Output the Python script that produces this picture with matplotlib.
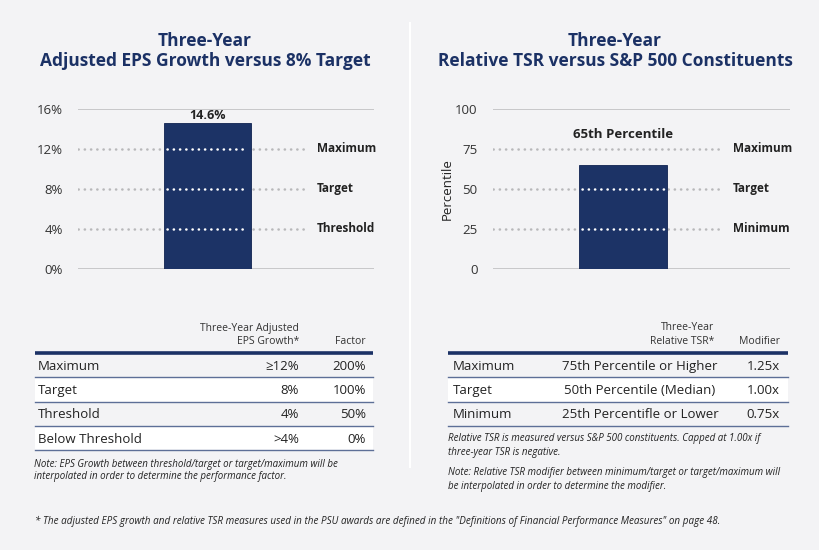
import matplotlib.pyplot as plt
from matplotlib.patches import Rectangle

# ---- data ----
eps_value = 14.6
eps_label = "14.6%"
eps_ticks = [0, 4, 8, 12, 16]
eps_tick_labels = ["0%", "4%", "8%", "12%", "16%"]
eps_levels = [12, 8, 4]
eps_level_names = ["Maximum", "Target", "Threshold"]

tsr_value = 65
tsr_label = "65th Percentile"
tsr_ticks = [0, 25, 50, 75, 100]
tsr_levels = [75, 50, 25]
tsr_level_names = ["Maximum", "Target", "Minimum"]

eps_rows = ["Maximum", "Target", "Threshold", "Below Threshold"]
eps_growth = ["\u226512%", "8%", "4%", ">4%"]
eps_factor = ["200%", "100%", "50%", "0%"]

tsr_rows = ["Maximum", "Target", "Minimum"]
tsr_rank = ["75th Percentile or Higher", "50th Percentile (Median)", "25th Percentifle or Lower"]
tsr_modifier = ["1.25x", "1.00x", "0.75x"]

BG = "#f3f3f5"
NAVY = "#1b3165"
BAR = "#1c3366"
GRID = "#c4c4c6"
DOT = "#b8b8ba"
TXT = "#222222"
FONT = ["Open Sans", "DejaVu Sans"]

plt.rcParams["font.family"] = FONT

W, H = 820, 550
fig = plt.figure(figsize=(8.2, 5.5), dpi=100, facecolor=BG)

# overlay in pixel coordinates for titles, tables and notes
bg = fig.add_axes([0, 0, 1, 1], zorder=0)
bg.set_xlim(0, W)
bg.set_ylim(H, 0)
bg.axis("off")
bg.set_facecolor(BG)

bg.plot([410, 410], [23, 467], color="white", lw=1.5)


def px_axes(x0, x1, y0, y1):
    return fig.add_axes([x0 / W, 1 - y1 / H, (x1 - x0) / W, (y1 - y0) / H], zorder=2)


def bar_panel(ax, value, ticks, tick_labels, levels, names, top):
    ax.set_facecolor("none")
    ax.set_xlim(0, 1)
    ax.set_ylim(0, top)
    for s in ax.spines.values():
        s.set_visible(False)
    ax.set_xticks([])
    ax.set_yticks(ticks)
    ax.set_yticklabels(tick_labels)
    ax.tick_params(axis="y", length=0, pad=11, labelsize=9.5, labelcolor="#333333")
    ax.axhline(0, color=GRID, lw=1.3, zorder=1)
    ax.axhline(top, color=GRID, lw=1.3, zorder=1)
    cx, bw = 0.4375, 0.294
    ax.bar(cx, value, width=bw, color=BAR, edgecolor="#0f2250", lw=0.6, zorder=2)
    for lv, nm in zip(levels, names):
        ax.plot([0, 0.777], [lv, lv], color=DOT, lw=1.8, ls=(0, (0.1, 2.4)),
                dash_capstyle="round", zorder=1)
        if lv < value:
            ax.plot([cx - bw / 2 + 0.01, cx + bw / 2 - 0.01], [lv, lv], color="white", lw=1.8,
                    ls=(0, (0.1, 2.4)), dash_capstyle="round", zorder=3)
        ax.text(0.807, lv, nm, ha="left", va="center", fontsize=8.5,
                fontweight="bold", color=TXT)
    return cx


# ---- left chart ----
ax1 = px_axes(78, 374, 109, 269)
cx = bar_panel(ax1, eps_value, eps_ticks, eps_tick_labels, eps_levels, eps_level_names, 16)
ax1.annotate(eps_label, (cx, eps_value), xytext=(0, 1), textcoords="offset points",
             ha="center", va="bottom", fontsize=9, fontweight="bold", color=TXT)

# ---- right chart ----
ax2 = px_axes(493, 790, 109, 269)
cx = bar_panel(ax2, tsr_value, tsr_ticks, [str(t) for t in tsr_ticks],
               tsr_levels, tsr_level_names, 100)
ax2.annotate(tsr_label, (cx, tsr_value), xytext=(0, 22), textcoords="offset points",
             ha="center", va="center", fontsize=9.5, fontweight="bold", color=TXT)
ax2.text(-0.155, 0.5, "Percentile", transform=ax2.transAxes, rotation=90,
         ha="center", va="center", fontsize=9.5, color=TXT)

# ---- titles ----
for x, lines in [(205, ["Three-Year", "Adjusted EPS Growth versus 8% Target"]),
                 (615, ["Three-Year", "Relative TSR versus S&P 500 Constituents"])]:
    bg.text(x, 41, lines[0], ha="center", va="center", fontsize=12.5,
            fontweight="bold", color=NAVY)
    bg.text(x, 61, lines[1], ha="center", va="center", fontsize=12.5,
            fontweight="bold", color=NAVY)


# ---- tables ----
def table(x0, x1, label_x, cols, rows, header, header_x):
    for hx, (l1, l2) in zip(header_x, header):
        if l1:
            bg.text(hx, 328, l1, ha="right", va="center", fontsize=7.5, color="#333333")
        bg.text(hx, 341, l2, ha="right", va="center", fontsize=7.5, color="#333333")
    top, rh = 353, 24.3
    for i, name in enumerate(rows):
        y = top + i * rh
        bg.add_patch(Rectangle((x0, y), x1 - x0, rh,
                               facecolor=BG if i % 2 == 0 else "white", lw=0))
        bg.plot([x0, x1], [y + rh, y + rh], color="#5d6f97", lw=1.0)
        bg.text(label_x, y + rh / 2 + 1, name, ha="left", va="center", fontsize=9.5, color=TXT)
        for (cxp, ha, vals) in cols:
            bg.text(cxp, y + rh / 2 + 1, vals[i], ha=ha, va="center", fontsize=9.5, color=TXT)
    bg.plot([x0, x1], [top, top], color=NAVY, lw=2.6, solid_capstyle="butt")


table(35, 373, 38,
      [(299, "right", eps_growth), (366, "right", eps_factor)],
      eps_rows,
      [("Three-Year Adjusted", "EPS Growth*"), ("", "Factor")], [299, 366])

table(448, 788, 453,
      [(640, "center", tsr_rank), (780, "right", tsr_modifier)],
      tsr_rows,
      [("Three-Year", "Relative TSR*"), ("", "Modifier")], [714, 780])

# ---- notes ----
note_kw = dict(ha="left", va="center", fontsize=7, style="italic", color=TXT)
bg.text(34, 464, "Note: EPS Growth between threshold/target or target/maximum will be", **note_kw)
bg.text(34, 476, "interpolated in order to determine the performance factor.", **note_kw)
bg.text(448, 438, "Relative TSR is measured versus S&P 500 constituents. Capped at 1.00x if", **note_kw)
bg.text(448, 452, "three-year TSR is negative.", **note_kw)
bg.text(448, 473, "Note: Relative TSR modifier between minimum/target or target/maximum will", **note_kw)
bg.text(448, 486, "be interpolated in order to determine the modifier.", **note_kw)
bg.text(35, 521, "* The adjusted EPS growth and relative TSR measures used in the PSU awards are "
        "defined in the \"Definitions of Financial Performance Measures\" on page 48.",
        ha="left", va="center", fontsize=7.1, style="italic", color=TXT)

fig.savefig("out.png", dpi=100, facecolor=BG)
